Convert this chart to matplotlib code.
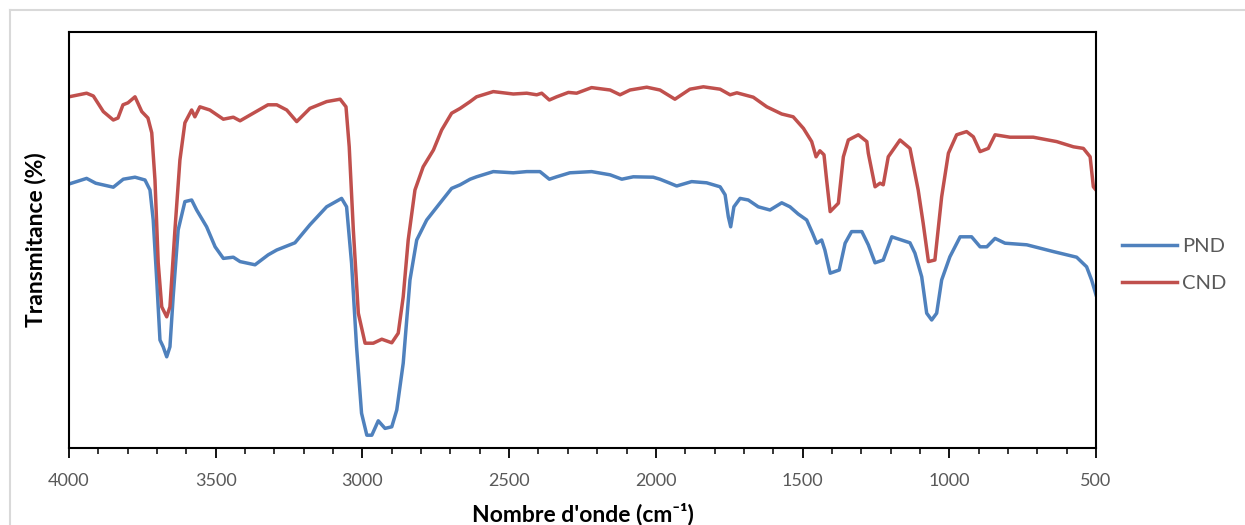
import matplotlib.pyplot as plt
from matplotlib.lines import Line2D
from matplotlib.ticker import MultipleLocator

# wavenumber (cm-1) and transmittance (arbitrary %)
cnd_wn = [4000, 3940, 3917, 3883, 3849, 3833, 3816, 3799, 3775, 3752, 3731, 3718,
          3707, 3696, 3684, 3667, 3656, 3639, 3622, 3605, 3582, 3571, 3554, 3520,
          3474, 3440, 3417, 3372, 3322, 3292, 3258, 3224, 3179, 3122, 3076, 3056,
          3045, 3031, 3014, 2991, 2963, 2934, 2900, 2878, 2861, 2844, 2821, 2793,
          2758, 2730, 2696, 2667, 2633, 2611, 2554, 2486, 2440, 2406, 2389, 2363,
          2338, 2298, 2270, 2219, 2156, 2122, 2088, 2031, 1986, 1935, 1884, 1838,
          1781, 1747, 1724, 1668, 1622, 1571, 1532, 1497, 1469, 1454, 1441, 1427,
          1418, 1406, 1378, 1361, 1344, 1310, 1281, 1276, 1253, 1236, 1225, 1208,
          1168, 1134, 1106, 1089, 1071, 1049, 1026, 1003, 975, 941, 918, 895,
          867, 844, 793, 714, 634, 577, 543, 520, 509, 500]
cnd_t = [87.8, 88.7, 88.0, 84.1, 82.0, 82.5, 85.8, 86.3, 87.8, 84.1, 82.5, 78.8,
         67.0, 46.3, 35.3, 32.8, 35.3, 54.5, 72.0, 81.3, 84.5, 82.8, 85.3, 84.5,
         82.2, 82.7, 81.8, 83.7, 85.8, 85.8, 84.5, 81.6, 84.9, 86.6, 87.2, 85.3,
         75.3, 54.5, 33.7, 26.2, 26.2, 27.2, 26.3, 28.7, 37.8, 52.0, 64.5, 70.3,
         74.5, 79.5, 83.7, 84.9, 86.6, 87.8, 89.1, 88.5, 88.7, 88.3, 88.7, 87.0,
         87.8, 88.9, 88.7, 90.1, 89.5, 88.3, 89.5, 90.2, 89.5, 87.2, 89.7, 90.3,
         89.7, 88.3, 88.8, 87.7, 85.3, 83.5, 82.8, 79.9, 76.6, 72.8, 74.3, 73.3,
         67.0, 59.1, 61.2, 72.8, 77.0, 78.3, 76.6, 73.7, 65.3, 66.2, 65.8, 72.8,
         77.0, 74.9, 64.5, 56.2, 46.6, 47.0, 62.8, 73.7, 78.3, 79.1, 77.8, 74.1,
         74.9, 78.3, 77.7, 77.7, 76.6, 75.3, 74.9, 72.8, 65.3, 64.5]

pnd_wn = [4000, 3940, 3909, 3849, 3815, 3775, 3741, 3724, 3713, 3701, 3690, 3679,
          3667, 3656, 3645, 3628, 3605, 3582, 3565, 3531, 3502, 3474, 3440, 3417,
          3366, 3321, 3292, 3230, 3179, 3122, 3071, 3054, 3037, 3020, 3003, 2985,
          2968, 2946, 2923, 2900, 2883, 2861, 2838, 2815, 2781, 2736, 2696, 2667,
          2633, 2611, 2554, 2486, 2440, 2395, 2363, 2338, 2293, 2219, 2156, 2116,
          2077, 2009, 1986, 1952, 1929, 1878, 1827, 1781, 1764, 1753, 1745, 1734,
          1713, 1685, 1651, 1611, 1571, 1543, 1515, 1486, 1466, 1452, 1435, 1424,
          1406, 1375, 1355, 1333, 1298, 1276, 1253, 1225, 1196, 1134, 1117, 1094,
          1077, 1060, 1043, 1026, 998, 963, 924, 895, 872, 844, 810, 736,
          645, 566, 532, 515, 500]
pnd_t = [66.0, 67.4, 66.2, 65.2, 67.2, 67.7, 67.0, 64.5, 57.0, 42.0, 27.0, 25.3,
         22.8, 25.3, 37.8, 54.5, 61.6, 62.0, 59.5, 55.3, 50.3, 47.4, 47.7, 46.6,
         45.8, 48.3, 49.5, 51.3, 55.8, 60.3, 62.4, 60.3, 46.2, 25.3, 8.7, 3.2,
         3.2, 6.8, 4.9, 5.3, 9.5, 21.2, 42.0, 52.0, 57.0, 61.2, 64.9, 65.8,
         67.2, 67.8, 69.1, 68.8, 69.1, 69.1, 67.2, 67.8, 68.8, 69.1, 68.3, 67.2,
         67.8, 67.7, 67.2, 66.2, 65.5, 66.6, 66.3, 65.3, 63.3, 57.8, 55.3, 60.3,
         62.4, 62.0, 60.3, 59.5, 61.3, 60.3, 58.5, 57.0, 53.7, 51.2, 52.0, 49.5,
         43.7, 44.5, 51.2, 54.1, 54.1, 50.8, 46.3, 47.0, 52.8, 51.3, 48.7, 42.8,
         33.7, 32.0, 33.7, 42.0, 47.8, 52.8, 52.8, 50.3, 50.3, 52.4, 51.2, 50.8,
         49.1, 47.7, 45.3, 42.0, 38.3]

xticks = [4000, 3500, 3000, 2500, 2000, 1500, 1000, 500]

blue = '#4F81BD'
red = '#C0504D'
grey = '#595959'
font = ['Lato', 'DejaVu Sans']

fig = plt.figure(figsize=(12.45, 5.25), dpi=100)
ax = fig.add_axes([69 / 1245, 1 - 448 / 525, (1096 - 69) / 1245, (448 - 32) / 525])

ax.plot(pnd_wn, pnd_t, color=blue, linewidth=2.5, solid_joinstyle='round', label='PND')
ax.plot(cnd_wn, cnd_t, color=red, linewidth=2.5, solid_joinstyle='round', label='CND')

ax.set_xlim(4000, 500)
ax.set_ylim(0, 104)
ax.set_xticks(xticks)
ax.xaxis.set_minor_locator(MultipleLocator(100))
ax.set_xticklabels([str(t) for t in xticks], family=font, fontsize=13, color=grey)
ax.tick_params(axis='x', which='major', direction='out', length=7, width=1.3, pad=11)
ax.tick_params(axis='x', which='minor', direction='out', length=4, width=1.1)
ax.set_yticks([])
for s in ax.spines.values():
    s.set_linewidth(1.5)
    s.set_color('black')

ax.set_xlabel("Nombre d'onde (cm\u207b\u00b9)", family=font, fontsize=16.5, fontweight='bold', labelpad=10)
ax.set_ylabel('Transmitance (%)', family=font, fontsize=16.5, fontweight='bold', labelpad=16)

leg = ax.legend(loc='center left', bbox_to_anchor=(1.008, 0.44), frameon=False,
                prop={'family': font, 'size': 14.5}, handlelength=2.7, handletextpad=0.25,
                labelspacing=0.95)
for t in leg.get_texts():
    t.set_color(grey)

# light frame around the chart area
fig.add_artist(Line2D([10 / 1245, 10 / 1245], [0, 1 - 10 / 525], color='#D9D9D9', linewidth=1.5))
fig.add_artist(Line2D([10 / 1245, 1], [1 - 10 / 525, 1 - 10 / 525], color='#D9D9D9', linewidth=1.5))

fig.savefig('out.png', dpi=100)
